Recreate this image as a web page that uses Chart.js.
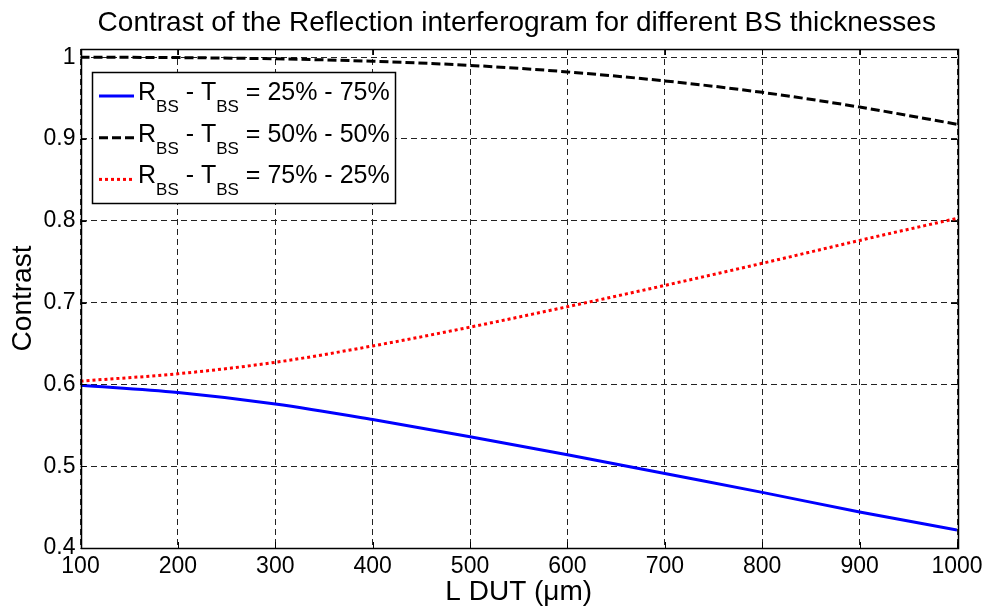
<!DOCTYPE html>
<html>
<head>
<meta charset="utf-8">
<title>Contrast of the Reflection interferogram</title>
<script src="https://cdn.jsdelivr.net/npm/chart.js@4/dist/chart.umd.min.js"></script>
<style>
  html, body { margin: 0; padding: 0; background: #fff; }
  #wrap { width: 988px; height: 610px; }
</style>
</head>
<body>
<div id="wrap"><canvas id="contrast_chart" width="988" height="610"></canvas></div>
<script>
const FONT = "'Liberation Sans', Arial, Helvetica, sans-serif";

// L DUT in micrometres
const xValues = [100, 200, 300, 400, 500, 600, 700, 800, 900, 1000];
// contrast for each beam splitter split
const contrast25 = [0.599, 0.590, 0.576, 0.557, 0.536, 0.514, 0.491, 0.468, 0.444, 0.422];
const contrast50 = [1.000, 0.9995, 0.998, 0.995, 0.990, 0.982, 0.971, 0.957, 0.939, 0.918];
const contrast75 = [0.604, 0.613, 0.627, 0.647, 0.670, 0.695, 0.721, 0.748, 0.776, 0.803];

const xTicks = [100, 200, 300, 400, 500, 600, 700, 800, 900, 1000];
const yTicks = [0.4, 0.5, 0.6, 0.7, 0.8, 0.9, 1.0];

const titleText = "Contrast of the Reflection interferogram for different BS thicknesses";
const xLabel = "L DUT (\u03bcm)";
const yLabel = "Contrast";
const legendSplits = ["25% - 75%", "50% - 50%", "75% - 25%"];

function toPoints(ys) {
  return xValues.map((x, i) => ({ x: x, y: ys[i] }));
}

// title, axis labels, box, inward ticks and legend
const decorations = {
  id: "decorations",
  afterDraw(chart) {
    const ctx = chart.ctx;
    const a = chart.chartArea;
    const xs = chart.scales.x, ys = chart.scales.y;
    ctx.save();

    // inward tick marks on all four sides
    ctx.strokeStyle = "#000";
    ctx.lineWidth = 1;
    ctx.setLineDash([]);
    ctx.beginPath();
    xTicks.forEach((t) => {
      const px = Math.round(xs.getPixelForValue(t)) + 0.5;
      ctx.moveTo(px, a.bottom); ctx.lineTo(px, a.bottom - 6);
      ctx.moveTo(px, a.top); ctx.lineTo(px, a.top + 6);
    });
    yTicks.forEach((t) => {
      const py = Math.round(ys.getPixelForValue(t)) + 0.5;
      ctx.moveTo(a.left, py); ctx.lineTo(a.left + 6, py);
      ctx.moveTo(a.right, py); ctx.lineTo(a.right - 6, py);
    });
    ctx.stroke();

    // axes box
    ctx.lineWidth = 1.5;
    ctx.strokeRect(Math.round(a.left) + 0.5, Math.round(a.top) + 0.5,
      Math.round(a.right - a.left), Math.round(a.bottom - a.top));

    // title
    ctx.fillStyle = "#000";
    ctx.textAlign = "center";
    ctx.textBaseline = "alphabetic";
    ctx.font = "28px " + FONT;
    ctx.fillText(titleText, (a.left + a.right) / 2 - 2, 31);

    // axis labels
    ctx.font = "28px " + FONT;
    ctx.textBaseline = "middle";
    ctx.fillText(xLabel, (a.left + a.right) / 2, 592);
    ctx.save();
    ctx.translate(23, (a.top + a.bottom) / 2);
    ctx.rotate(-Math.PI / 2);
    ctx.fillText(yLabel, 0, 0);
    ctx.restore();

    // legend
    const lx = 92, ly = 72, lw = 303, lh = 131;
    ctx.fillStyle = "#fff";
    ctx.fillRect(lx, ly, lw, lh);
    ctx.strokeStyle = "#000";
    ctx.lineWidth = 1.5;
    ctx.strokeRect(lx + 0.5, ly + 0.5, lw, lh);

    chart.data.datasets.forEach((ds, i) => {
      const base = 100 + i * 41.7;
      const lineY = base - 4;
      ctx.strokeStyle = ds.borderColor;
      ctx.lineWidth = ds.borderWidth;
      ctx.setLineDash(ds.borderDash || []);
      ctx.beginPath();
      ctx.moveTo(99, lineY);
      ctx.lineTo(134, lineY);
      ctx.stroke();
      ctx.setLineDash([]);

      ctx.fillStyle = "#000";
      ctx.textAlign = "left";
      ctx.textBaseline = "alphabetic";
      const big = "25px " + FONT, small = "17px " + FONT;
      let cx = 138;
      const parts = [
        ["R", big, 0], ["BS", small, 12], [" - T", big, 0], ["BS", small, 12],
        [" = " + legendSplits[i], big, 0]
      ];
      parts.forEach(([txt, f, dy]) => {
        ctx.font = f;
        ctx.fillText(txt, cx, base + dy);
        cx += ctx.measureText(txt).width;
      });
    });

    ctx.restore();
  }
};

new Chart(document.getElementById("contrast_chart"), {
  type: "line",
  data: {
    datasets: [
      {
        label: "25% - 75%",
        data: toPoints(contrast25),
        borderColor: "#0000ff",
        borderWidth: 3,
        pointRadius: 0,
        cubicInterpolationMode: "monotone",
        fill: false,
      },
      {
        label: "50% - 50%",
        data: toPoints(contrast50),
        borderColor: "#000000",
        borderWidth: 3,
        borderDash: [9, 4],
        pointRadius: 0,
        cubicInterpolationMode: "monotone",
        fill: false,
      },
      {
        label: "75% - 25%",
        data: toPoints(contrast75),
        borderColor: "#ff0000",
        borderWidth: 3,
        borderDash: [3, 3],
        pointRadius: 0,
        cubicInterpolationMode: "monotone",
        fill: false,
      },
    ],
  },
  options: {
    responsive: false,
    animation: false,
    devicePixelRatio: 1,
    layout: { padding: { left: 0, right: 31, top: 49, bottom: 0 } },
    plugins: {
      legend: { display: false },
      tooltip: { enabled: false },
      title: { display: false },
    },
    scales: {
      x: {
        type: "linear",
        min: 100,
        max: 1000,
        afterFit: (s) => { s.height = 62; },
        afterBuildTicks: (s) => { s.ticks = xTicks.map((v) => ({ value: v })); },
        grid: { color: "#222", lineWidth: 1, drawTicks: false },
        border: { display: false, dash: [6, 4] },
        ticks: {
          color: "#000",
          font: { family: FONT, size: 23 },
          padding: 5,
          maxRotation: 0,
          callback: (v) => String(v),
        },
      },
      y: {
        min: 0.4,
        max: 1.01,
        afterFit: (s) => { s.width = 80.5; },
        afterBuildTicks: (s) => { s.ticks = yTicks.map((v) => ({ value: v })); },
        grid: { color: "#222", lineWidth: 1, drawTicks: false },
        border: { display: false, dash: [6, 4] },
        ticks: {
          color: "#000",
          font: { family: FONT, size: 23 },
          padding: 5,
          callback: (v) => String(Math.round(v * 10) / 10),
        },
      },
    },
  },
  plugins: [decorations],
});
</script>
</body>
</html>
